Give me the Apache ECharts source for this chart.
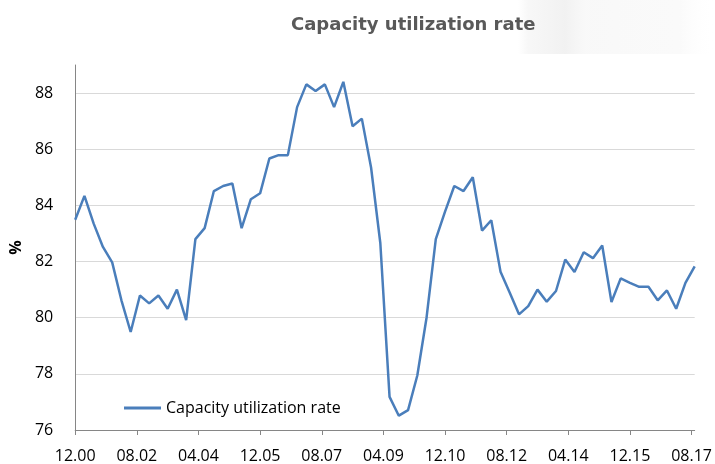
<!DOCTYPE html>
<html>
<head>
<meta charset="utf-8">
<title>Capacity utilization rate</title>
<script src="https://cdn.jsdelivr.net/npm/echarts@6/dist/echarts.min.js"></script>
<style>
  html, body { margin: 0; padding: 0; background: #ffffff; }
  #chart { width: 715px; height: 464px; }
</style>
</head>
<body>
<div id="chart"></div>
<script>
// Quarterly capacity utilization (%), first observation December 2000
const utilization = [
  83.49, 84.34, 83.35, 82.52, 81.97, 80.62, 79.49, 80.79, 80.51, 80.79,
  80.32, 81.00, 79.91, 82.80, 83.19, 84.51, 84.69, 84.78, 83.19, 84.22,
  84.43, 85.67, 85.79, 85.79, 87.50, 88.31, 88.07, 88.31, 87.50, 88.40,
  86.82, 87.09, 85.35, 82.66, 77.18, 76.51, 76.71, 77.94, 80.00, 82.80,
  83.78, 84.69, 84.51, 85.00, 83.10, 83.47, 81.64, 80.89, 80.12, 80.41,
  81.00, 80.57, 80.95, 82.07, 81.63, 82.33, 82.12, 82.57, 80.56, 81.40,
  81.24, 81.10, 81.10, 80.62, 80.97, 80.32, 81.24, 81.83
];
// Date labels on the time axis, one every 20 months
const tickLabels = ['12.00', '08.02', '04.04', '12.05', '08.07', '04.09', '12.10', '08.12', '04.14', '12.15', '08.17'];
const seriesName = 'Capacity utilization rate';

const MONTHS_PER_QUARTER = 3;
const MONTHS_PER_TICK = 20;

// x values are months elapsed since the first observation
const points = utilization.map((v, i) => [i * MONTHS_PER_QUARTER, v]);
const tickValues = tickLabels.map((_, i) => i * MONTHS_PER_TICK);
const lastMonth = (utilization.length - 1) * MONTHS_PER_QUARTER;

const chart = echarts.init(document.getElementById('chart'), null, { renderer: 'canvas' });

chart.setOption({
  backgroundColor: '#ffffff',
  animation: false,
  graphic: [{
    // faint grey shading behind the top-right corner
    type: 'rect',
    left: 518, top: 0,
    shape: { width: 197, height: 54 },
    silent: true,
    z: -10,
    style: {
      fill: new echarts.graphic.LinearGradient(0, 0, 1, 0, [
        { offset: 0, color: 'rgba(238,238,238,0)' },
        { offset: 0.05, color: 'rgba(238,238,238,0.45)' },
        { offset: 0.24, color: 'rgba(232,232,232,0.6)' },
        { offset: 0.34, color: 'rgba(242,242,242,0.5)' },
        { offset: 0.82, color: 'rgba(244,244,244,0.45)' },
        { offset: 1, color: 'rgba(255,255,255,0)' }
      ])
    }
  }],
  title: {
    text: 'Capacity utilization rate',
    left: 286,
    top: 11,
    textStyle: {
      fontFamily: 'DejaVu Sans',
      fontSize: 18,
      fontWeight: 'bold',
      color: '#595959'
    }
  },
  legend: {
    left: 119,
    top: 395,
    itemWidth: 37,
    itemHeight: 3,
    textStyle: { fontFamily: 'Open Sans', fontSize: 16, color: '#000000' },
    data: [{ name: seriesName, icon: 'rect' }]
  },
  grid: { left: 75, right: 19, top: 65, bottom: 33, containLabel: false },
  xAxis: {
    type: 'value',
    min: 0,
    max: lastMonth,
    interval: MONTHS_PER_TICK,
    axisLine: { show: true, lineStyle: { color: '#868686', width: 1 } },
    axisTick: { show: true, length: 5, customValues: tickValues, lineStyle: { color: '#868686' } },
    splitLine: { show: false },
    axisLabel: {
      customValues: tickValues,
      margin: 18,
      fontFamily: 'Open Sans',
      fontSize: 16,
      color: '#000000',
      formatter: (val) => tickLabels[Math.round(val / MONTHS_PER_TICK)]
    }
  },
  yAxis: {
    type: 'value',
    min: 76,
    max: 89,
    interval: 2,
    name: '%',
    nameLocation: 'middle',
    nameGap: 49,
    nameRotate: 90,
    nameTextStyle: { fontFamily: 'Open Sans', fontSize: 16, fontWeight: 'bold', color: '#000000' },
    axisLine: { show: true, lineStyle: { color: '#868686', width: 1 } },
    axisTick: { show: false },
    splitLine: { show: true, showMaxLine: false, lineStyle: { color: '#d9d9d9', width: 1 } },
    axisLabel: {
      showMaxLabel: false,
      margin: 22,
      fontFamily: 'Open Sans',
      fontSize: 16,
      color: '#000000'
    }
  },
  series: [{
    name: seriesName,
    type: 'line',
    data: points,
    symbol: 'none',
    lineStyle: { color: '#4a7ebb', width: 2.5 },
    itemStyle: { color: '#4a7ebb' }
  }]
});
</script>
</body>
</html>
